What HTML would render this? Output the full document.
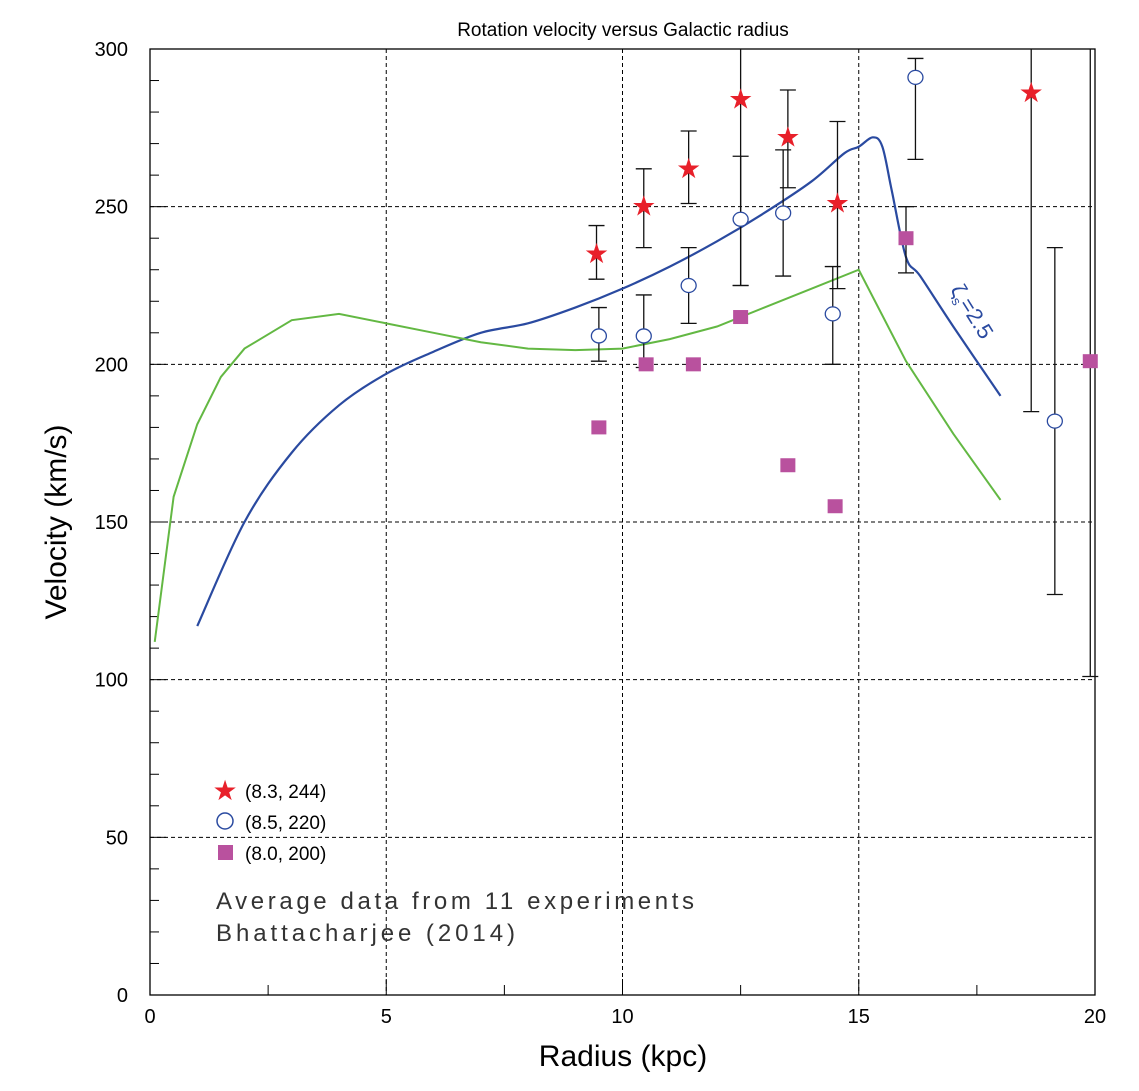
<!DOCTYPE html>
<html><head><meta charset="utf-8"><style>
body{margin:0;background:#fff;}
svg{display:block;font-family:"Liberation Sans",sans-serif;}
</style></head><body>
<svg id="chart" width="1139" height="1091">
<rect width="1139" height="1091" fill="#fff"/>
<text x="623" y="36" font-size="19" text-anchor="middle">Rotation velocity versus Galactic radius</text>
<text x="623" y="1066" font-size="30" text-anchor="middle">Radius (kpc)</text>
<text transform="translate(66,522) rotate(-90)" font-size="30" text-anchor="middle">Velocity (km/s)</text>
<g id="grid"></g><g id="axes"></g><g id="curves"></g><g id="marks"></g>
<g>
<text x="225" y="800" font-size="28" fill="#e8202a" text-anchor="middle">★</text>
<text x="245" y="798" font-size="19">(8.3, 244)</text>
<circle cx="225" cy="821" r="8" fill="#fff" stroke="#2a4aa0" stroke-width="1.5"/>
<text x="245" y="829" font-size="19">(8.5, 220)</text>
<rect x="218" y="845" width="15" height="15" fill="#b9519e"/>
<text x="245" y="860" font-size="19">(8.0, 200)</text>
</g>
<text x="216" y="909" font-size="24" fill="#333" textLength="478" lengthAdjust="spacing">Average data from 11 experiments</text>
<text x="216" y="941" font-size="24" fill="#333" textLength="299" lengthAdjust="spacing">Bhattacharjee (2014)</text>
<text transform="translate(950,290) rotate(58)" font-size="22" fill="#2a4aa0">ζ<tspan font-size="13" dy="5">s</tspan><tspan dy="-5">=2.5</tspan></text>
</svg>
<script>
const xTicks=[0,5,10,15,20];
const yTicks=[0,50,100,150,200,250,300];
const blueR=[1,2,3,4,5,6,7,8,9,10,11,12,13,14,14.7,15,15.3,15.5,15.7,16,16.3,17,18];
const blueV=[117,150,172,187,197,204,210,213,218,224,231,239,248,258,267,269,272,269,255,234,228,212,190];
const greenR=[0.1,0.3,0.5,1,1.5,2,3,4,5,6,7,8,9,10,11,12,13,14,15,16,17,18];
const greenV=[112,135,158,181,196,205,214,216,213,210,207,205,204.5,205,208,212,218,224,230,201,178,157];
const starR=[9.45,10.45,11.4,12.5,13.5,14.55,18.65];
const starV=[235,250,262,284,272,251,286];
const starLo=[227,237,251,225,256,224,185];
const starHi=[244,262,274,305,287,277,305];
const circR=[9.5,10.45,11.4,12.5,13.4,14.45,16.2,19.15];
const circV=[209,209,225,246,248,216,291,182];
const circLo=[201,199,213,225,228,200,265,127];
const circHi=[218,222,237,266,268,231,297,237];
const sqR=[9.5,10.5,11.5,12.5,13.5,14.5,16.0,19.9];
const sqV=[180,200,200,215,168,155,240,201];
const sqLo=[null,null,null,null,null,null,229,101];
const sqHi=[null,null,null,null,null,null,250,305];
const X0=150,X1=1095,Y0=995,Y1=49;
const sx=r=>X0+r*(X1-X0)/20;
const sy=v=>Y0-Math.min(v,300)*(Y0-Y1)/300;
const NS='http://www.w3.org/2000/svg';
function mk(tag,attrs,parent){const e=document.createElementNS(NS,tag);for(const k in attrs)e.setAttribute(k,attrs[k]);document.getElementById(parent).appendChild(e);return e;}
function smooth(pts){let d='M'+pts[0][0]+','+pts[0][1];for(let i=0;i<pts.length-1;i++){const p0=pts[Math.max(0,i-1)],p1=pts[i],p2=pts[i+1],p3=pts[Math.min(pts.length-1,i+2)];
const c1=[p1[0]+(p2[0]-p0[0])/6,p1[1]+(p2[1]-p0[1])/6],c2=[p2[0]-(p3[0]-p1[0])/6,p2[1]-(p3[1]-p1[1])/6];
d+=' C'+c1+' '+c2+' '+p2;}return d;}
xTicks.forEach(t=>{if(t>0&&t<20){const l=mk('line',{x1:sx(t),x2:sx(t),y1:Y1,y2:Y0,stroke:'#000','stroke-dasharray':'4,3','stroke-width':1},'grid');

}});
yTicks.forEach(t=>{if(t>0&&t<300){const l=mk('line',{x1:X0,x2:X1,y1:sy(t),y2:sy(t),stroke:'#000','stroke-dasharray':'4,3','stroke-width':1},'grid');

}});
const fr=mk('rect',{x:X0,y:Y1,width:X1-X0,height:Y0-Y1,fill:'none',stroke:'#000','stroke-width':1.3},'axes');


for(let v=0;v<=300;v+=10){const big=v%50===0;const l=mk('line',{x1:X0,x2:X0+(big?16:9),y1:sy(v),y2:sy(v),stroke:'#000'},'axes');

}
for(let r=0;r<=20;r+=2.5){const big=r%5===0;const l=mk('line',{x1:sx(r),x2:sx(r),y1:Y0,y2:Y0-(big?16:10),stroke:'#000'},'axes');

}
xTicks.forEach(t=>{const e=mk('text',{x:sx(t),y:1023,'font-size':20,'text-anchor':'middle'},'axes');e.textContent=t;

});
yTicks.forEach(t=>{const e=mk('text',{x:128,y:sy(t)+7,'font-size':20,'text-anchor':'end'},'axes');e.textContent=t;

});
const bp=mk('path',{d:smooth(blueR.map((r,i)=>[sx(r),sy(blueV[i])])),fill:'none',stroke:'#2a4aa0','stroke-width':2.2},'curves');


const gp=mk('polyline',{points:greenR.map((r,i)=>sx(r)+','+sy(greenV[i])).join(' '),fill:'none',stroke:'#63b843','stroke-width':2},'curves');


function errbar(r,lo,hi,name){if(lo==null)return;const x=sx(r);
const l=mk('line',{x1:x,x2:x,y1:sy(lo),y2:sy(hi),stroke:'#111','stroke-width':1.3},'marks');


[lo,hi].forEach(v=>{if(v<=300){const c=mk('line',{x1:x-8,x2:x+8,y1:sy(v),y2:sy(v),stroke:'#111','stroke-width':1.3},'marks');

}});}
starR.forEach((r,i)=>errbar(r,starLo[i],starHi[i],'star-error-bar'));
circR.forEach((r,i)=>errbar(r,circLo[i],circHi[i],'circle-error-bar'));
sqR.forEach((r,i)=>errbar(r,sqLo[i],sqHi[i],'square-error-bar'));
sqR.forEach((r,i)=>{const e=mk('rect',{x:sx(r)-7.5,y:sy(sqV[i])-7,width:15,height:14,fill:'#b9519e'},'marks');

});
circR.forEach((r,i)=>{const e=mk('ellipse',{cx:sx(r),cy:sy(circV[i]),rx:7.5,ry:7,fill:'#fff',stroke:'#2a4aa0','stroke-width':1.3},'marks');

});
starR.forEach((r,i)=>{const e=mk('text',{x:sx(r),y:sy(starV[i])+9,'font-size':28,fill:'#e8202a','text-anchor':'middle'},'marks');e.textContent='★';

});
</script>
</body></html>
